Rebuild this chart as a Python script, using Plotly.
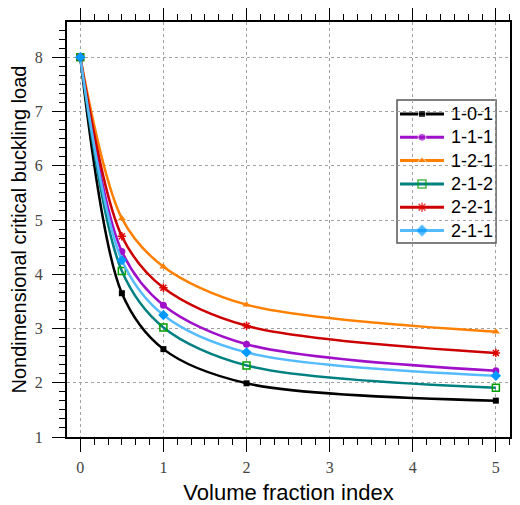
import plotly.graph_objects as go

x_vals = [0, 0.5, 1, 2, 5]
series_names = ["1-0-1", "1-1-1", "1-2-1", "2-1-2", "2-2-1", "2-1-1"]
y_101 = [8.0, 3.65, 2.62, 1.99, 1.67]
y_111 = [8.0, 4.42, 3.43, 2.71, 2.22]
y_121 = [8.0, 5.03, 4.14, 3.44, 2.94]
y_212 = [8.0, 4.06, 3.02, 2.32, 1.91]
y_221 = [8.0, 4.70, 3.75, 3.05, 2.55]
y_211 = [8.0, 4.26, 3.25, 2.56, 2.13]
x_ticks = [0, 1, 2, 3, 4, 5]
y_ticks = [1, 2, 3, 4, 5, 6, 7, 8]

styles = [
    (y_101, "#000000", dict(symbol="square", size=6, color="#000000")),
    (y_111, "#a010c8", dict(symbol="circle", size=7, color="#a010c8")),
    (y_121, "#ff8000", dict(symbol="triangle-up", size=7, color="#ff8000")),
    (y_212, "#008080", dict(symbol="square-open", size=7, color="#00a000", line=dict(width=1.5, color="#00a000"))),
    (y_221, "#cc0000", dict(symbol="asterisk-open", size=7, color="#dd0000", line=dict(width=1.5, color="#dd0000"))),
    (y_211, "#55bbff", dict(symbol="diamond", size=8, color="#0099ff")),
]

# plot-area pixel geometry (page coords) used to place the custom legend
PL, PR, PT, PB = 67, 510, 22, 437
def px_x(p):
    return (p - PL) / (PR - PL)
def px_y(p):
    return (PB - p) / (PB - PT)

fig = go.Figure()
for name, (ys, col, mk) in zip(series_names, styles):
    fig.add_trace(go.Scatter(
        x=x_vals, y=ys, name=name, mode="lines+markers",
        line=dict(color=col, width=2.5, shape="spline", smoothing=0.9),
        marker=mk, showlegend=False,
    ))

# custom legend (box, sample lines+markers on an overlay axis, texts)
box_l, box_r, box_t, box_b = 397, 496, 100, 243
line_l, line_r, mark_x, text_x = 400, 444, 422, 449
first_c, step = 114, 23.3
fig.add_shape(type="rect", xref="paper", yref="paper",
              x0=px_x(box_l), x1=px_x(box_r), y0=px_y(box_b), y1=px_y(box_t),
              line=dict(color="#555555", width=1.5), fillcolor="#ffffff", layer="between")
for i, (name, (ys, col, mk)) in enumerate(zip(series_names, styles)):
    cy = px_y(first_c + i * step)
    mk2 = dict(mk)
    mk2["size"] = [0, mk["size"] + 1, 0]
    fig.add_trace(go.Scatter(
        x=[px_x(line_l), px_x(mark_x), px_x(line_r)], y=[cy, cy, cy],
        xaxis="x2", yaxis="y2", mode="lines+markers",
        line=dict(color=col, width=3), marker=mk2, showlegend=False, hoverinfo="skip",
    ))
    fig.add_annotation(xref="paper", yref="paper", x=px_x(text_x), y=cy,
                       text=name, showarrow=False, xanchor="left", yanchor="middle",
                       font=dict(family="Liberation Sans", size=18, color="#000000"))

axis_common = dict(
    showline=True, linecolor="#000000", linewidth=2, mirror="allticks",
    ticks="outside", ticklen=13, tickwidth=1.2, tickcolor="#000000",
    showgrid=True, gridcolor="#a0a0a0", griddash="dot", gridwidth=1,
    zeroline=False, automargin=False,
    tickfont=dict(family="Liberation Serif", size=16, color="#444444"),
)

fig.update_layout(
    xaxis=dict(
        range=[-0.16, 5.17], tickvals=x_ticks, ticktext=[str(v) for v in x_ticks],
        title=dict(text="Volume fraction index", font=dict(family="Liberation Sans", size=22, color="#000000"), standoff=12),
        minor=dict(tick0=0, dtick=1/6, ticklen=6, ticks="outside", tickcolor="#000000", tickwidth=1, showgrid=False),
        ticklabelstandoff=2,
        **axis_common,
    ),
    yaxis=dict(
        range=[1, 8.65], tickvals=y_ticks, ticktext=[str(v) for v in y_ticks],
        title=dict(text="Nondimensional critical buckling load", font=dict(family="Liberation Sans", size=20, color="#000000"), standoff=6),
        minor=dict(tick0=1, dtick=1/6, ticklen=6, ticks="outside", tickcolor="#000000", tickwidth=1, showgrid=False),
        ticklabelstandoff=6,
        **axis_common,
    ),
    xaxis2=dict(overlaying="x", range=[0, 1], visible=False, fixedrange=True),
    yaxis2=dict(overlaying="y", range=[0, 1], visible=False, fixedrange=True),
)

# page body has an 8px default margin; compensate so the plot area matches the reference
fig.update_layout(
    width=512, height=497,
    margin=dict(l=PL - 8, r=520 - PR, t=PT - 8, b=505 - PB, autoexpand=False),
    plot_bgcolor="#ffffff", paper_bgcolor="#ffffff",
    showlegend=False,
)

fig.write_html("out.html")
